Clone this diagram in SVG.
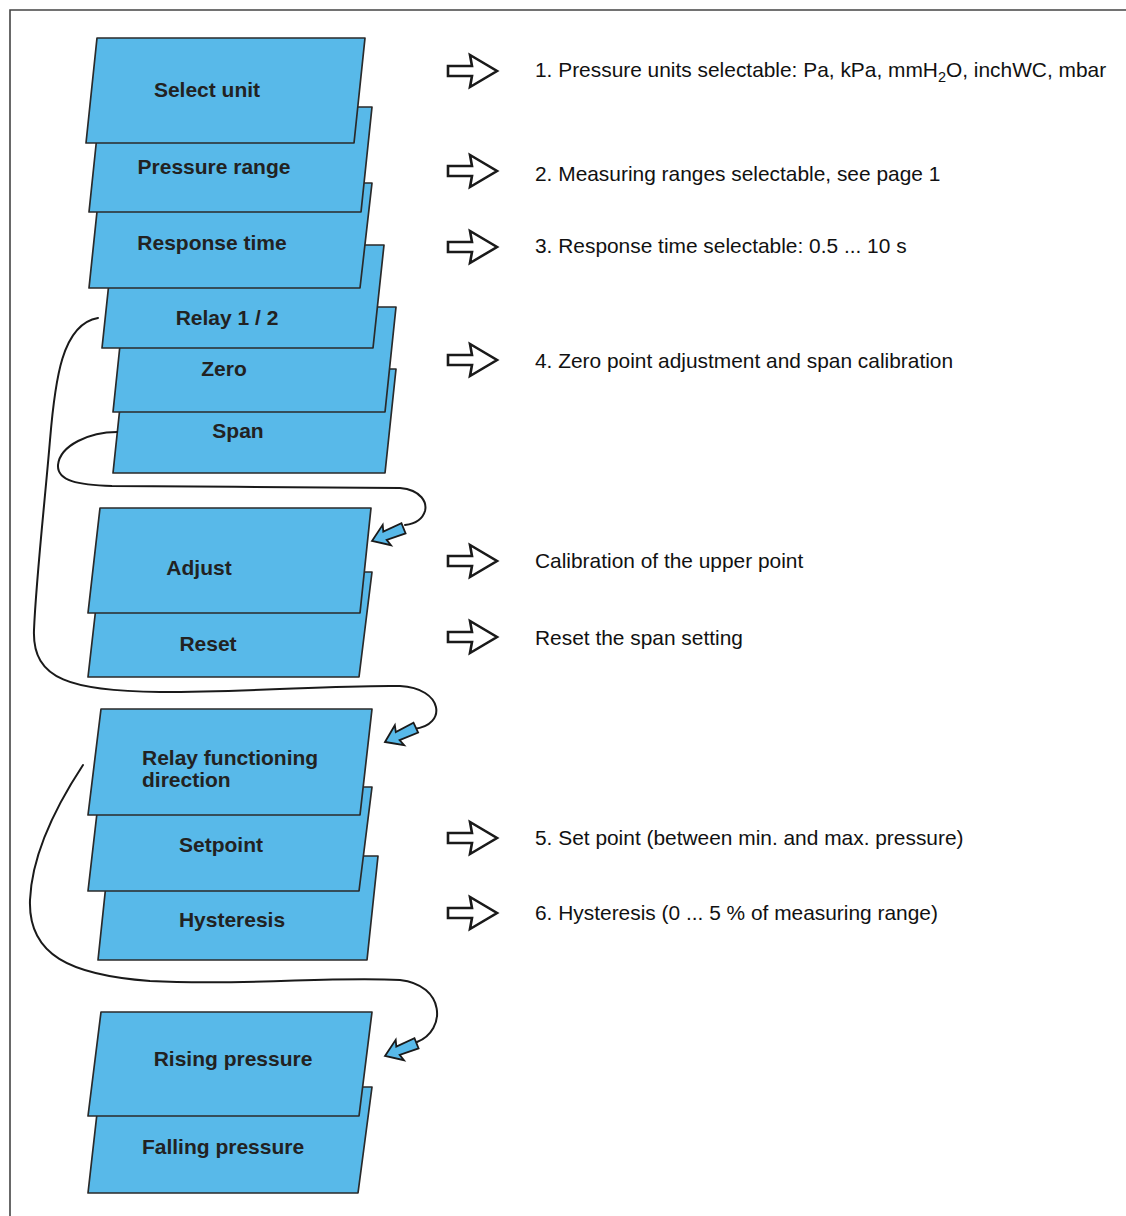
<svg xmlns="http://www.w3.org/2000/svg" width="1126" height="1216" viewBox="0 0 1126 1216">
<style>
.card{fill:#58b9e9;stroke:#2a2a2a;stroke-width:1.7;stroke-linejoin:round}
.lbl{font-family:"Liberation Sans",Arial,sans-serif;font-weight:bold;font-size:21px;fill:#222;text-anchor:middle}
.lbll{font-family:"Liberation Sans",Arial,sans-serif;font-weight:bold;font-size:21px;fill:#222}
.desc{font-family:"Liberation Sans",Arial,sans-serif;font-size:20.9px;fill:#111}
.conn{fill:none;stroke:#1a1a1a;stroke-width:2;stroke-linecap:round}
.rarr{fill:#fff;stroke:#1a1a1a;stroke-width:2.6;stroke-linejoin:miter}
.barr{fill:#58b9e9;stroke:#1a1a1a;stroke-width:1.8;stroke-linejoin:miter}
.frame{fill:none;stroke:#444;stroke-width:1.6}
</style>
<defs>
<path id="ra" d="M448,-5 L472,-5 L470,-16 L497,0 L470,16 L472,5 L448,5 Z"/>
<path id="ba" d="M0,0 L16,-11 L14,-4.5 L34,-5.5 L34,5.5 L14,4.5 L16,11 Z"/>
</defs>
<rect width="1126" height="1216" fill="#fff"/>
<path class="frame" d="M10,1216 L10,10 L1126,10"/>

<g id="span"><polygon class="card" points="124,369 396,369 385,473 113,473"/><text class="lbl" x="238" y="438">Span</text></g>
<g id="zero"><polygon class="card" points="124,307 396,307 385,412 113,412"/><text class="lbl" x="224" y="376">Zero</text></g>
<g id="relay12"><polygon class="card" points="113,245 384,245 373,348 102,348"/><text class="lbl" x="227" y="325">Relay 1 / 2</text></g>
<g id="response-time"><polygon class="card" points="100,183 372,183 360,288 89,288"/><text class="lbl" x="212" y="250">Response time</text></g>
<g id="pressure-range"><polygon class="card" points="100,107 372,107 361,212 89,212"/><text class="lbl" x="214" y="174">Pressure range</text></g>
<g id="select-unit"><polygon class="card" points="97,38 365,38 354,143 86,143"/><text class="lbl" x="207" y="97">Select unit</text></g>

<g id="reset"><polygon class="card" points="100,572 372,572 359,677 88,677"/><text class="lbl" x="208" y="651">Reset</text></g>
<g id="adjust"><polygon class="card" points="100,508 371,508 360,613 88,613"/><text class="lbl" x="199" y="575">Adjust</text></g>

<g id="hysteresis"><polygon class="card" points="109,856 378,856 367,960 98,960"/><text class="lbl" x="232" y="927">Hysteresis</text></g>
<g id="setpoint"><polygon class="card" points="100,787 372,787 359,891 88,891"/><text class="lbl" x="221" y="852">Setpoint</text></g>
<g id="relay-direction"><polygon class="card" points="101,709 372,709 360,815 88,815"/><text class="lbll" x="142" y="765">Relay functioning</text><text class="lbll" x="142" y="787">direction</text></g>

<g id="falling-pressure"><polygon class="card" points="100,1087 372,1087 358,1193 88,1193"/><text class="lbl" x="223" y="1154">Falling pressure</text></g>
<g id="rising-pressure"><polygon class="card" points="101,1012 372,1012 359,1116 88,1116"/><text class="lbl" x="233" y="1066">Rising pressure</text></g>

<g id="connectors">
<path class="conn" d="M117,432 C90,432 60,445 58,465 C57,481 78,485 112,486 C200,487 330,487 400,488 C422,490 427,503 425,511 C422,521 413,524 405,525"/>
<path class="conn" d="M98,318 C62,324 55,380 50,440 C45,500 36,580 34,630 C32,680 72,691 160,692 C260,692 330,685 400,686 C443,688 448,725 414,729"/>
<path class="conn" d="M83,765 C60,800 32,850 30,900 C28,955 70,975 150,981 C250,986 330,976 400,980 C445,985 447,1030 417,1042"/>
<use href="#ba" class="barr" transform="translate(372,541) rotate(-22)"/>
<use href="#ba" class="barr" transform="translate(385,742) rotate(-25)"/>
<use href="#ba" class="barr" transform="translate(385,1056) rotate(-22)"/>
</g>

<g id="descriptions">
<use href="#ra" class="rarr" transform="translate(0,71)"/>
<use href="#ra" class="rarr" transform="translate(0,171)"/>
<use href="#ra" class="rarr" transform="translate(0,247)"/>
<use href="#ra" class="rarr" transform="translate(0,360)"/>
<use href="#ra" class="rarr" transform="translate(0,561)"/>
<use href="#ra" class="rarr" transform="translate(0,637)"/>
<use href="#ra" class="rarr" transform="translate(0,838)"/>
<use href="#ra" class="rarr" transform="translate(0,913)"/>
<text class="desc" x="535" y="77">1. Pressure units selectable: Pa, kPa, mmH<tspan dy="5" font-size="14.5">2</tspan><tspan dy="-5">O, inchWC, mbar</tspan></text>
<text class="desc" x="535" y="181">2. Measuring ranges selectable, see page 1</text>
<text class="desc" x="535" y="253">3. Response time selectable: 0.5 ... 10 s</text>
<text class="desc" x="535" y="368">4. Zero point adjustment and span calibration</text>
<text class="desc" x="535" y="568">Calibration of the upper point</text>
<text class="desc" x="535" y="645">Reset the span setting</text>
<text class="desc" x="535" y="845">5. Set point (between min. and max. pressure)</text>
<text class="desc" x="535" y="920">6. Hysteresis (0 ... 5 % of measuring range)</text>
</g>
</svg>
